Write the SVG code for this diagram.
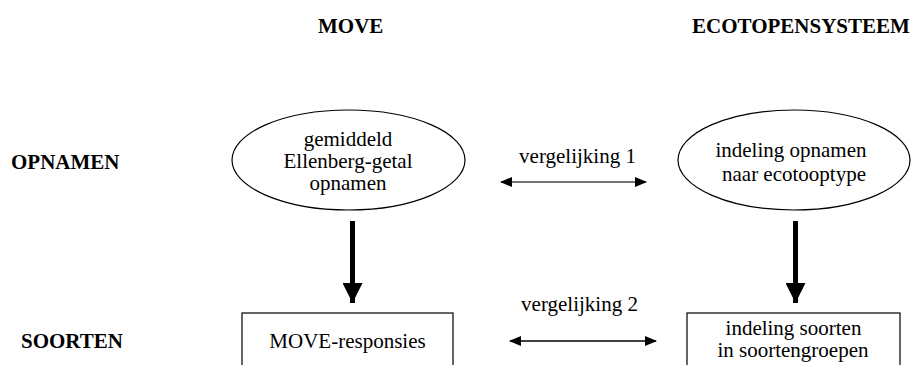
<svg xmlns="http://www.w3.org/2000/svg" width="914" height="365" viewBox="0 0 914 365">
<style>
.t { font-family: 'Liberation Serif', 'DejaVu Serif', serif; fill: #000; }
.hdr { font-size: 21px; font-weight: bold; }
.lbl { font-size: 21px; text-anchor: middle; }
.node { fill: #fff; stroke: #000; stroke-width: 1.2; }
.cmp { stroke-width: 1.5; fill: none; }
.down { stroke: #000; stroke-width: 5; fill: none; }
</style>
<defs>
<marker id="hs" viewBox="0 0 12 10" refX="11" refY="5" markerWidth="12" markerHeight="10" markerUnits="userSpaceOnUse" orient="auto-start-reverse">
<path d="M0,0 L12,5 L0,10 z" fill="#000"/>
</marker>
<marker id="hb" viewBox="0 0 20 20" refX="20" refY="10" markerWidth="20" markerHeight="20" markerUnits="userSpaceOnUse" orient="auto">
<path d="M0,0 L20,10 L0,20 z" fill="#000"/>
</marker>
</defs>
<g id="headers" font-family="Liberation Serif, serif">
<text class="t hdr" x="318" y="33">MOVE</text>
<text class="t hdr" x="692" y="33">ECOTOPENSYSTEEM</text>
<text class="t hdr" x="11" y="169">OPNAMEN</text>
<text class="t hdr" x="21" y="348">SOORTEN</text>
</g>
<g id="node-ellenberg">
<ellipse class="node" cx="348.5" cy="160" rx="116.5" ry="50"/>
<text class="t lbl" x="348" y="146">gemiddeld</text>
<text class="t lbl" x="348" y="168">Ellenberg-getal</text>
<text class="t lbl" x="348" y="190">opnamen</text>
</g>
<g id="node-ecotoop">
<ellipse class="node" cx="794" cy="160" rx="116" ry="50"/>
<text class="t lbl" x="791" y="157">indeling opnamen</text>
<text class="t lbl" x="794" y="181">naar ecotooptype</text>
</g>
<g id="node-move-responsies">
<rect class="node" x="242" y="313" width="211" height="70"/>
<text class="t lbl" x="347.5" y="348">MOVE-responsies</text>
</g>
<g id="node-soortengroepen">
<rect class="node" x="687" y="313" width="213" height="70"/>
<text class="t lbl" x="793.5" y="335">indeling soorten</text>
<text class="t lbl" x="793" y="357">in soortengroepen</text>
</g>
<g id="connectors">
<line class="cmp" x1="501" y1="182" x2="646" y2="182" stroke="#444" marker-start="url(#hs)" marker-end="url(#hs)"/>
<text class="t lbl" x="577.5" y="163">vergelijking 1</text>
<line class="cmp" x1="510" y1="341" x2="656" y2="341" stroke="#000" stroke-width="1.2" marker-start="url(#hs)" marker-end="url(#hs)"/>
<text class="t lbl" x="579.5" y="311">vergelijking 2</text>
<line class="down" x1="352.5" y1="221" x2="352.5" y2="303" marker-end="url(#hb)"/>
<line class="down" x1="795.5" y1="221" x2="795.5" y2="303" marker-end="url(#hb)"/>
</g>
</svg>
